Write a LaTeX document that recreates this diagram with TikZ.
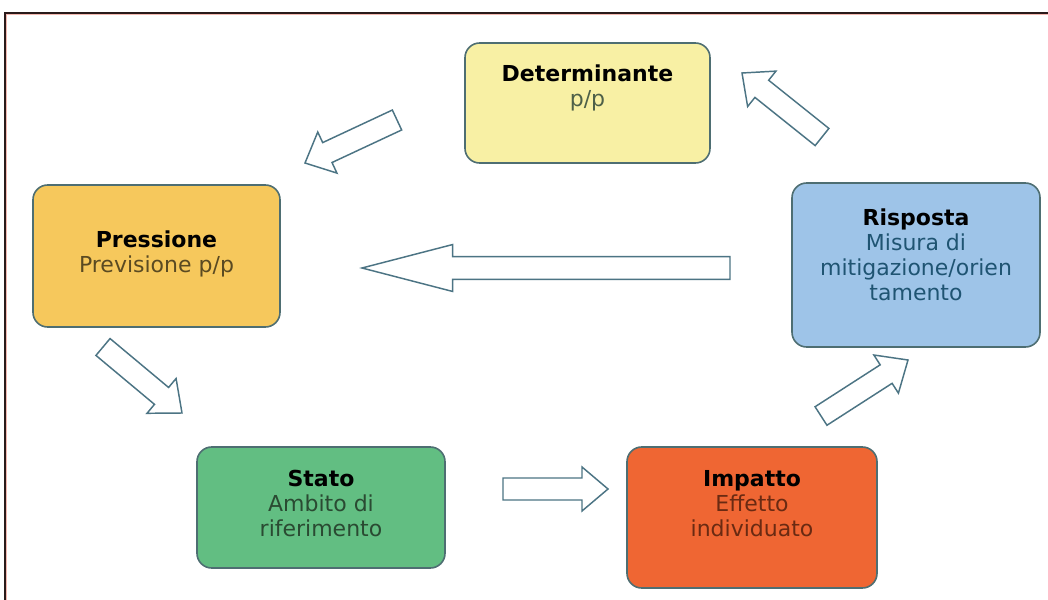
\documentclass[tikz,border=0pt]{standalone}
\usepackage{fontspec}
\setmainfont{DejaVu Sans}
\usetikzlibrary{calc}
\definecolor{frameC}{HTML}{2A1A1A}
\definecolor{frameS}{HTML}{F2B8B0}
\definecolor{edgeC}{HTML}{4E6E72}
\definecolor{arrC}{HTML}{4C7484}
\definecolor{detF}{HTML}{F8F0A4}
\definecolor{preF}{HTML}{F6C85C}
\definecolor{risF}{HTML}{9EC4E8}
\definecolor{staF}{HTML}{62BE82}
\definecolor{impF}{HTML}{EF6633}
\definecolor{detT}{HTML}{4E6048}
\definecolor{preT}{HTML}{5A4A22}
\definecolor{risT}{HTML}{1F5472}
\definecolor{staT}{HTML}{2A4A32}
\definecolor{impT}{HTML}{6A2A12}
\tikzset{
  box/.style={draw=edgeC, line width=1.2pt, rounded corners=11pt, inner sep=0pt},
  txt/.style={align=center, inner sep=0pt, font=\fontsize{16.5}{18.75}\selectfont},
  barrow/.style={draw=arrC, fill=white, line width=1.1pt, line join=miter}
}
\newcommand\blockarrow[5]{% from, to, half shaft, half head, head length
  \coordinate (ba-h) at ($(#2)!#5!(#1)$);
  \draw[barrow] ($(#1)!#3!90:(#2)$) -- ($(ba-h)!#3!90:(#2)$) -- ($(ba-h)!#4!90:(#2)$)
    -- (#2) -- ($(ba-h)!#4!-90:(#2)$) -- ($(ba-h)!#3!-90:(#2)$) -- ($(#1)!#3!-90:(#2)$) -- cycle;}
\begin{document}
\begin{tikzpicture}[x=0.75pt,y=-0.75pt]
\useasboundingbox (0,0) rectangle (1048,599);
\clip (0,0) rectangle (1048,599);
\fill[white] (0,0) rectangle (1048,599);
% frame
\draw[frameS, line width=1pt] (6.5,612) -- (6.5,14.5) -- (1060,14.5);
\draw[frameC, line width=1.3pt] (5,612) -- (5,13) -- (1060,13);
% boxes
\node[box, fill=detF, minimum width=183.75pt, minimum height=90pt] (det) at (587.5,103) {};
\node[box, fill=preF, minimum width=185.25pt, minimum height=106.5pt] (pre) at (156.5,256) {};
\node[box, fill=risF, minimum width=186pt, minimum height=123pt] (ris) at (916,265) {};
\node[box, fill=staF, minimum width=186pt, minimum height=90.75pt] (sta) at (321,507.5) {};
\node[box, fill=impF, minimum width=187.5pt, minimum height=105.75pt] (imp) at (752,517.5) {};
% texts
\node[txt, text=detT] (detL) at (587.5,88) {\textcolor{black}{\textbf{Determinante}}\\p/p};
\node[txt, text=preT] (preL) at (156.5,254) {\textcolor{black}{\textbf{Pressione}}\\Previsione p/p};
\node[txt, text=risT] (risL) at (916,255) {\textcolor{black}{\textbf{Risposta}}\\Misura di\\mitigazione/orien\\tamento};
\node[txt, text=staT] (staL) at (321,503) {\textcolor{black}{\textbf{Stato}}\\Ambito di\\riferimento};
\node[txt, text=impT] (impL) at (752,504) {\textcolor{black}{\textbf{Impatto}}\\Effetto\\individuato};
% arrow end points
\coordinate (a1s) at (397,120); \coordinate (a1e) at (305,163);
\coordinate (a2s) at (822,137); \coordinate (a2e) at (742,73);
\coordinate (a3s) at (730,268); \coordinate (a3e) at (362,268);
\coordinate (a4s) at (103,347); \coordinate (a4e) at (182,413);
\coordinate (a5s) at (503,489); \coordinate (a5e) at (608,489);
\coordinate (a6s) at (821,416); \coordinate (a6e) at (908,360);
\blockarrow{a1s}{a1e}{8.25pt}{17pt}{18.5pt}
\blockarrow{a2s}{a2e}{8.25pt}{17pt}{19pt}
\blockarrow{a3s}{a3e}{8.6pt}{17.6pt}{68pt}
\blockarrow{a4s}{a4e}{8.25pt}{17pt}{20pt}
\blockarrow{a5s}{a5e}{8.25pt}{16.5pt}{19.5pt}
\blockarrow{a6s}{a6e}{8.25pt}{17pt}{19.5pt}
\end{tikzpicture}
\end{document}
